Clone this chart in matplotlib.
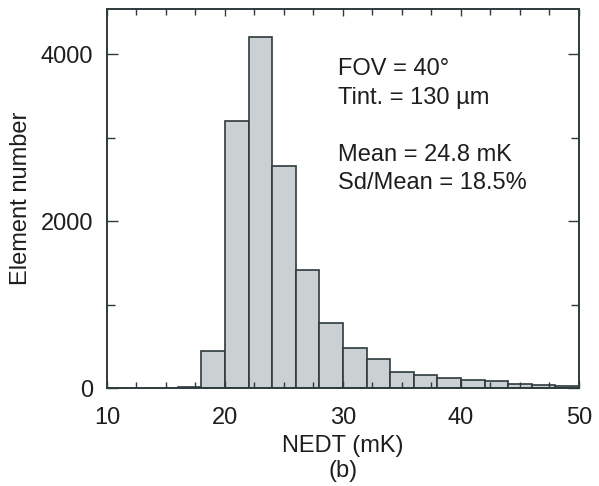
import numpy as np
import matplotlib
matplotlib.use('Agg')
import matplotlib.pyplot as plt
from matplotlib.ticker import MultipleLocator

plt.rcParams['font.family'] = ['Liberation Sans', 'DejaVu Sans']

# histogram data (NEDT bins of 2 mK)
bin_edges = [16, 18, 20, 22, 24, 26, 28, 30, 32, 34, 36, 38, 40, 42, 44, 46, 48, 50]
counts = [8, 443, 3199, 4199, 2656, 1416, 778, 479, 347, 191, 152, 124, 96, 84, 52, 32, 30]

info_lines = ['FOV = 40\u00b0', 'Tint. = 130 \u00b5m', '', 'Mean = 24.8 mK', 'Sd/Mean = 18.5%']

FACE = '#cbd0d3'
EDGE = '#2e3a3c'
TXT = '#1e1e1e'
FS = 17

fig = plt.figure(figsize=[5.99, 4.86], dpi=100)
ax = fig.add_axes([0.1786, 0.2016, 0.788, 0.7799])

left = np.array(bin_edges[:-1])
widths = np.diff(bin_edges)
ax.bar(left, counts, width=widths, align='edge', color=FACE, edgecolor=EDGE, linewidth=1.2)

ax.set_xlim(10, 50)
ax.set_ylim(0, 4540)
ax.xaxis.set_major_locator(MultipleLocator(10))
ax.xaxis.set_minor_locator(MultipleLocator(2.5))
ax.yaxis.set_major_locator(MultipleLocator(2000))
ax.yaxis.set_minor_locator(MultipleLocator(1000))

for s in ax.spines.values():
    s.set_color(EDGE)
    s.set_linewidth(1.4)

ax.tick_params(which='both', direction='in', top=True, right=True, color=EDGE,
               labelsize=FS, labelcolor=TXT, width=1.0)
ax.tick_params(axis='x', which='major', length=5, pad=14)
ax.tick_params(axis='x', which='minor', length=4)
ax.tick_params(axis='y', which='major', length=8, pad=10)
ax.tick_params(axis='y', which='minor', length=6)

ax.set_xlabel('NEDT (mK)\n(b)', fontsize=FS, color=TXT, labelpad=4, linespacing=1.2)
ax.set_ylabel('Element number', fontsize=FS, color=TXT, labelpad=6)

ax.text(0.49, 0.87, '\n'.join(info_lines), transform=ax.transAxes, fontsize=FS,
        color=TXT, va='top', ha='left', linespacing=1.38)

plt.savefig('out.png', dpi=100)
